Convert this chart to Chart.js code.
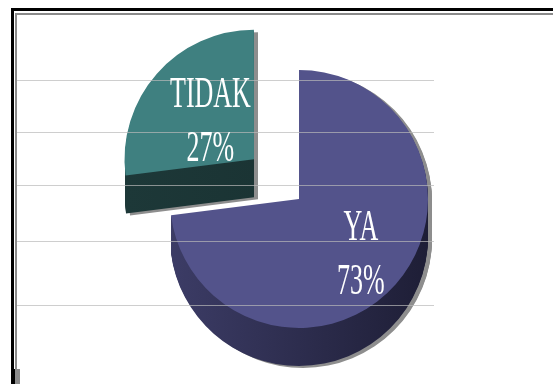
<!DOCTYPE html>
<html>
<head>
<meta charset="utf-8">
<script src="https://cdn.jsdelivr.net/npm/chart.js@4/dist/chart.umd.min.js"></script>
<style>
  html, body { margin: 0; padding: 0; background: #fff; }
  #wrap { width: 553px; height: 384px; position: relative; }
</style>
</head>
<body>
<div id="wrap"><canvas id="pie"></canvas></div>
<script>
// chart values
const labels = ["YA", "TIDAK"];
const percents = [73, 27];
const topColors = ["#53538b", "#3f8080"];
const sideColors = [["#3c3c66", "#1e1e36"], ["#1d3838", "#183030"]];
const explode = [0, 60]; // px the slice is pulled out

// faint scan lines that cross the page
const scanLines = [80, 132, 185, 241, 305];

const DEPTH = 38;

function slicePath(ctx, cx, cy, r, a0, a1) {
  ctx.beginPath();
  ctx.moveTo(cx, cy);
  ctx.arc(cx, cy, r, a0, a1);
  ctx.closePath();
}

// chart.js v4 moves an arc by offset / 4 when drawing
function shift(arc) {
  const mid = (arc.startAngle + arc.endAngle) / 2;
  const off = (arc.options.offset || 0) / 4;
  return { dx: Math.cos(mid) * off, dy: Math.sin(mid) * off, mid };
}

// draws the extruded side + grey drop shadow under each slice
const depthPlugin = {
  id: "depth",
  beforeDatasetsDraw(chart) {
    const ctx = chart.ctx;
    const arcs = chart.getDatasetMeta(0).data;
    ctx.save();
    // shadow
    arcs.forEach((arc) => {
      const { dx, dy } = shift(arc);
      ctx.fillStyle = "#8e8e8e";
      for (let d = 0; d <= DEPTH; d++) {
        slicePath(ctx, arc.x + dx + 4, arc.y + dy + d + 2, arc.outerRadius, arc.startAngle, arc.endAngle);
        ctx.fill();
      }
    });
    // sides
    arcs.forEach((arc, i) => {
      const { dx, dy } = shift(arc);
      const cx = arc.x + dx;
      const g = ctx.createLinearGradient(cx - arc.outerRadius, 0, cx + arc.outerRadius, 0);
      g.addColorStop(0, sideColors[i][0]);
      g.addColorStop(1, sideColors[i][1]);
      ctx.fillStyle = g;
      for (let d = DEPTH; d >= 1; d--) {
        slicePath(ctx, cx, arc.y + dy + d, arc.outerRadius, arc.startAngle, arc.endAngle);
        ctx.fill();
      }
    });
    ctx.restore();
  },
};

const labelRadius = [0.64, 0.45];

const decoPlugin = {
  id: "deco",
  beforeDraw(chart) {
    const ctx = chart.ctx;
    ctx.save();
    ctx.fillStyle = "#000";
    ctx.fillRect(11, 8, chart.width - 11, 3);
    ctx.fillRect(11, 8, 3, chart.height - 8);
    ctx.fillStyle = "#8a8a8a";
    ctx.fillRect(15, 13, chart.width - 15, 2);
    ctx.fillRect(15, 13, 2, chart.height - 13);
    ctx.fillStyle = "#000";
    ctx.fillRect(11, 369, 4, chart.height - 369);
    ctx.fillStyle = "#8a8a8a";
    ctx.fillRect(15, 369, 5, chart.height - 369);
    ctx.restore();
  },
  afterDatasetsDraw(chart) {
    const ctx = chart.ctx;
    const arcs = chart.getDatasetMeta(0).data;
    const right = arcs[0].x + arcs[0].outerRadius + 6;
    ctx.save();
    ctx.strokeStyle = "rgba(185,185,185,0.7)";
    ctx.lineWidth = 1;
    scanLines.forEach((y) => {
      ctx.beginPath();
      ctx.moveTo(17, y + 0.5);
      ctx.lineTo(right, y + 0.5);
      ctx.stroke();
    });

    ctx.fillStyle = "#ffffff";
    ctx.textAlign = "center";
    ctx.textBaseline = "alphabetic";
    ctx.font = "26px 'Liberation Serif', 'DejaVu Serif', serif";
    const sy = 1.7;
    arcs.forEach((arc, i) => {
      const { dx, dy, mid } = shift(arc);
      const r = arc.outerRadius * labelRadius[i];
      const px = arc.x + dx + Math.cos(mid) * r;
      const py = arc.y + dy + Math.sin(mid) * r;
      ctx.save();
      ctx.translate(px, py);
      ctx.scale(1, sy);
      ctx.fillText(labels[i], 0, -14 / sy);
      ctx.fillText(percents[i] + "%", 0, 40 / sy);
      ctx.restore();
    });
    ctx.restore();
  },
};

new Chart(document.getElementById("pie"), {
  type: "pie",
  data: {
    labels: labels,
    datasets: [
      {
        data: percents,
        backgroundColor: topColors,
        borderWidth: 0,
        offset: explode.map((v) => v * 4),
      },
    ],
  },
  options: {
    responsive: true,
    maintainAspectRatio: false,
    animation: false,
    events: [],
    radius: 129,
    layout: { padding: { left: 141, right: 96, top: 41, bottom: 27 } },
    plugins: {
      legend: { display: false },
      tooltip: { enabled: false },
    },
  },
  plugins: [depthPlugin, decoPlugin],
});
</script>
</body>
</html>
